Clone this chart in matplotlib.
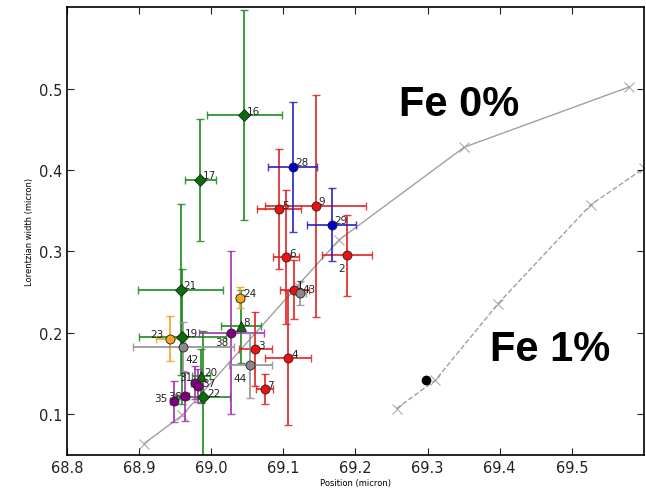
import matplotlib
matplotlib.use("Agg")
import matplotlib.pyplot as plt

# ---- data ----
ids    = [16, 17, 21, 19, 20, 22, 8, 5, 9, 6, 2, 1, 3, 4, 7, 28, 29, 24, 23, 38, 31, 37, 36, 35, 42, 44, 43]
xpos   = [69.046, 68.985, 68.958, 68.960, 68.986, 68.989, 69.041,
          69.094, 69.145, 69.104, 69.188, 69.115, 69.061, 69.107, 69.074,
          69.113, 69.167, 69.040, 68.943,
          69.028, 68.978, 68.982, 68.963, 68.948,
          68.961, 69.054, 69.123]
width  = [0.467, 0.388, 0.253, 0.195, 0.147, 0.121, 0.208,
          0.352, 0.356, 0.293, 0.295, 0.253, 0.180, 0.169, 0.131,
          0.404, 0.333, 0.243, 0.193,
          0.200, 0.139, 0.135, 0.122, 0.116,
          0.183, 0.160, 0.249]
xerr   = [0.052, 0.021, 0.059, 0.060, 0.012, 0.037, 0.028,
          0.030, 0.070, 0.018, 0.035, 0.020, 0.023, 0.032, 0.012,
          0.034, 0.034, 0.005, 0.020,
          0.045, 0.006, 0.006, 0.006, 0.005,
          0.070, 0.030, 0.008]
yerr   = [0.129, 0.075, 0.105, 0.083, 0.033, 0.081, 0.045,
          0.074, 0.136, 0.082, 0.050, 0.036, 0.045, 0.082, 0.018,
          0.080, 0.045, 0.013, 0.028,
          0.100, 0.020, 0.020, 0.030, 0.025,
          0.030, 0.040, 0.015]
groups = ["g", "g", "g", "g", "gt", "g", "gt",
          "r", "r", "r", "r", "r", "r", "r", "r",
          "b", "b", "o", "o",
          "p", "p", "p", "p", "p",
          "k", "k", "k"]

fe0_x = [68.907, 68.960, 69.120, 69.177, 69.351, 69.580]
fe0_y = [0.064, 0.099, 0.258, 0.314, 0.428, 0.502]
fe1_x = [69.257, 69.311, 69.398, 69.526, 69.600]
fe1_y = [0.107, 0.142, 0.236, 0.357, 0.402]
meas_x = [69.298]
meas_y = [0.142]

# ---- styles ----
style = {
    "g":  dict(color="#1a8a1a", face="#0b6e0b", marker="D", ms=6.5),
    "gt": dict(color="#1a8a1a", face="#0b6e0b", marker="^", ms=6.5),
    "r":  dict(color="#e02020", face="#ee1111", marker="o", ms=6.5),
    "b":  dict(color="#2020c8", face="#0000cc", marker="o", ms=6.5),
    "o":  dict(color="#f0a020", face="#f5a623", marker="o", ms=6.5),
    "p":  dict(color="#a030b0", face="#800080", marker="o", ms=6.5),
    "k":  dict(color="#909090", face="#888888", marker="o", ms=6.5),
}
label_off = {2: (-6, -11), 42: (2, -11), 44: (-12, -11), 38: (-12, -9),
             35: (-14, 0), 23: (-14, 1), 36: (-12, -2), 31: (-12, 2),
             37: (3, 0), 22: (3, 1)}

fig = plt.figure(figsize=(6.46, 4.89), dpi=100)
ax = fig.add_axes([0.1037, 0.0675, 0.893, 0.916])

ax.plot(fe0_x, fe0_y, "-", color="#a0a0a0", lw=1.0, marker="x", ms=7, mew=0.7, zorder=1)
ax.plot(fe1_x, fe1_y, "--", color="#a0a0a0", lw=1.0, marker="x", ms=7, mew=0.7, zorder=1)
ax.plot(meas_x, meas_y, "o", color="black", ms=6, zorder=3)

for i, x, y, xe, ye, g in zip(ids, xpos, width, xerr, yerr, groups):
    s = style[g]
    ax.errorbar(x, y, xerr=xe, yerr=ye, fmt="none", ecolor=s["color"],
                elinewidth=1.4, capsize=3, capthick=1.0, alpha=0.85, zorder=2)
    ax.plot(x, y, marker=s["marker"], ms=s["ms"], mfc=s["face"], mec="#202020",
            mew=0.6, linestyle="none", zorder=4)
    off = label_off.get(i, (2, 1))
    ax.annotate(str(i), (x, y), xytext=off, textcoords="offset points",
                fontsize=7.5, color="#222222", zorder=5)

ax.text(69.2606, 0.467, "Fe 0%", fontsize=30, fontweight="bold",
        family="Liberation Sans", color="black")
ax.text(69.386, 0.1666, "Fe 1%", fontsize=30, fontweight="bold",
        family="Liberation Sans", color="black")

ax.set_xlim(68.8, 69.6)
ax.set_ylim(0.05, 0.6)
ax.set_xticks([68.8, 68.9, 69.0, 69.1, 69.2, 69.3, 69.4, 69.5])
ax.set_yticks([0.1, 0.2, 0.3, 0.4, 0.5])
ax.tick_params(direction="in", top=True, right=True, length=5, labelsize=10.5,
               colors="#222222")
ax.set_xlabel("Position (micron)", fontsize=6, labelpad=2)
ax.set_ylabel("Lorentzian width (micron)", fontsize=6, labelpad=3)
for sp in ax.spines.values():
    sp.set_linewidth(1.2)

fig.savefig("out.png", dpi=100)
